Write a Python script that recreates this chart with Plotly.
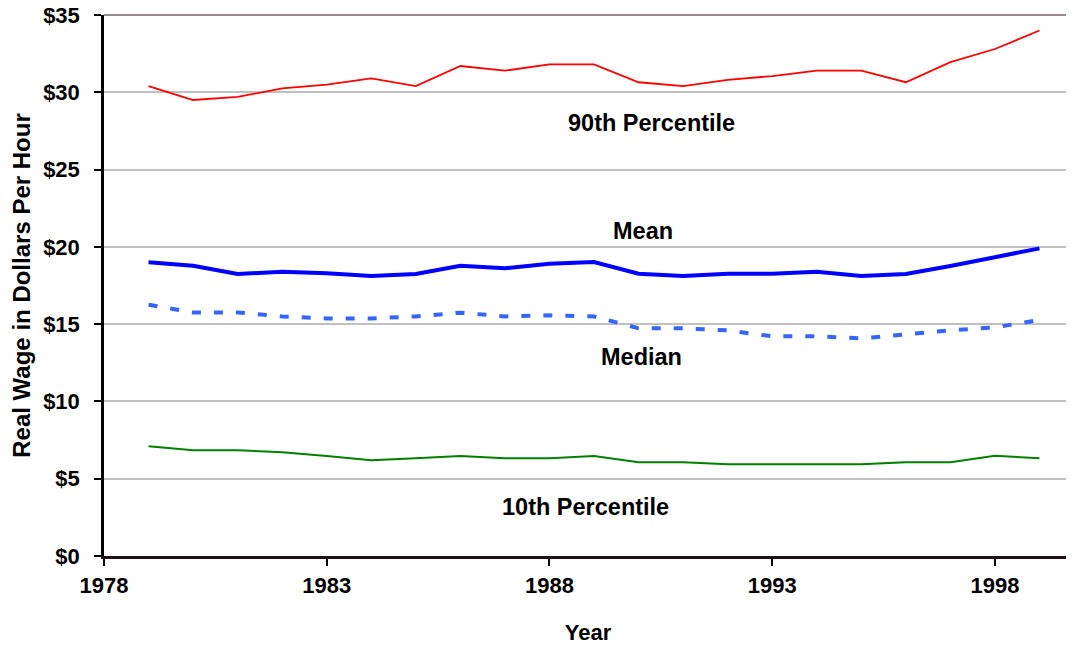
import plotly.graph_objects as go

years = list(range(1979, 2000))
p90 = [30.4, 29.5, 29.7, 30.25, 30.5, 30.9, 30.4, 31.7, 31.4, 31.8, 31.8,
       30.65, 30.4, 30.8, 31.05, 31.4, 31.4, 30.65, 31.95, 32.8, 34.0]
mean = [19.0, 18.78, 18.24, 18.39, 18.29, 18.11, 18.24, 18.78, 18.61, 18.91, 19.02,
        18.26, 18.11, 18.26, 18.26, 18.39, 18.11, 18.24, 18.76, 19.32, 19.9]
median = [16.25, 15.76, 15.76, 15.5, 15.37, 15.37, 15.5, 15.74, 15.5, 15.57, 15.5,
          14.73, 14.73, 14.6, 14.21, 14.21, 14.08, 14.34, 14.6, 14.79, 15.27]
p10 = [7.1, 6.84, 6.84, 6.71, 6.47, 6.19, 6.32, 6.47, 6.32, 6.32, 6.47,
       6.06, 6.06, 5.93, 5.93, 5.93, 5.93, 6.06, 6.06, 6.48, 6.32]

y_ticks = [0, 5, 10, 15, 20, 25, 30, 35]
y_labels = ["$0", "$5", "$10", "$15", "$20", "$25", "$30", "$35"]
x_ticks = [1978, 1983, 1988, 1993, 1998]

labels = [("90th Percentile", 1990.3, 28.0),
          ("Mean", 1990.1, 21.0),
          ("Median", 1990.07, 12.9),
          ("10th Percentile", 1988.8, 3.2)]

FONT = "Liberation Sans, Arial, sans-serif"

fig = go.Figure()
fig.add_trace(go.Scatter(x=years, y=p90, mode="lines", name="90th Percentile",
                         line=dict(color="#FF0000", width=1.8)))
fig.add_trace(go.Scatter(x=years, y=mean, mode="lines", name="Mean",
                         line=dict(color="#0000FF", width=4)))
fig.add_trace(go.Scatter(x=years, y=median, mode="lines", name="Median",
                         line=dict(color="#3366FF", width=4, dash="9px,13px")))
fig.add_trace(go.Scatter(x=years, y=p10, mode="lines", name="10th Percentile",
                         line=dict(color="#008000", width=2)))

for text, x, y in labels:
    fig.add_annotation(x=x, y=y, text=text, showarrow=False,
                       font=dict(family=FONT, size=23.5, color="black", weight="bold"))

fig.add_shape(type="line", xref="paper", yref="paper", x0=0, x1=1, y0=1, y1=1,
              line=dict(color="#9a8a8a", width=2))

# the page body has an 8px default margin, so the figure is offset by (8, 8)
fig.update_layout(
    width=1066, height=640,
    margin=dict(l=96, r=2, t=7, b=92),
    plot_bgcolor="white", paper_bgcolor="white",
    showlegend=False,
    font=dict(family=FONT, color="black"),
    xaxis=dict(range=[1978, 1999.73], tickvals=x_ticks, ticks="outside", ticklen=7,
               tickwidth=1.5, tickcolor="black", showgrid=False, zeroline=False,
               showline=True, linecolor="#201010", linewidth=2.5, automargin=False,
               ticklabelstandoff=1, ticklabeloverflow="allow",
               tickfont=dict(family=FONT, size=22, weight="bold"),
               title=dict(text="Year", font=dict(family=FONT, size=22, weight="bold"),
                          standoff=28)),
    yaxis=dict(range=[0, 35], tickvals=y_ticks, ticktext=y_labels, ticks="outside",
               ticklen=7, tickwidth=1.5, tickcolor="black", showgrid=True,
               gridcolor="#c0c0c0", gridwidth=1.5, zeroline=False, automargin=False,
               showline=True, linecolor="black", linewidth=2.5,
               ticklabelstandoff=10, ticklabeloverflow="allow",
               tickfont=dict(family=FONT, size=22, weight="bold"),
               title=dict(text="Real Wage in Dollars Per Hour",
                          font=dict(family=FONT, size=24, weight="bold"), standoff=6)),
)

fig.write_html("out.html")
